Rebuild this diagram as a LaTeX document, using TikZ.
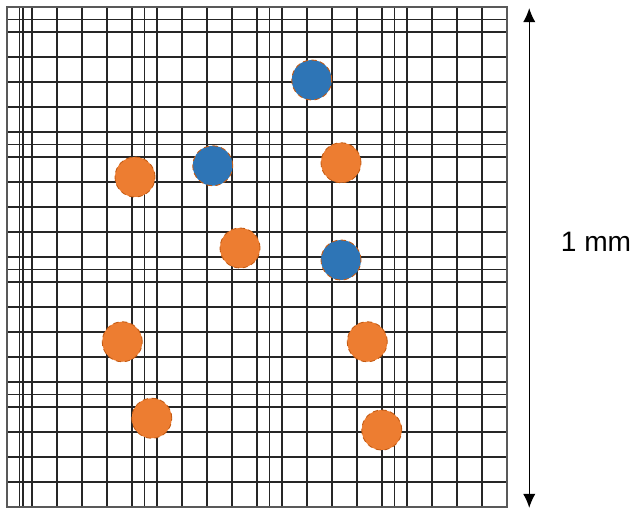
\documentclass[tikz,border=0pt]{standalone}
\usepackage{fontspec}
\setmainfont{Liberation Sans}
\usepackage{xcolor}
\usepackage{tikz}
\usetikzlibrary{arrows.meta}

\definecolor{cellorange}{HTML}{ED7D31}
\definecolor{cellblue}{HTML}{2E75B6}
\definecolor{rimorange}{HTML}{C55A11}

\begin{document}
\begin{tikzpicture}[x=0.5cm, y=0.5cm,
    gridline/.style={black!85, line width=0.9pt},
    frameline/.style={black!65, line width=1.2pt},
    cell/.style={circle, minimum size=0.8cm, inner sep=0pt, draw=rimorange, densely dashed, line width=0.5pt},
    live/.style={cell, fill=cellorange},
    dead/.style={cell, fill=cellblue},
    scalebar/.style={black, line width=0.85pt, arrows={Latex[length=8pt, width=7pt]-Latex[length=8pt, width=7pt]}}]
            \useasboundingbox (-0.28,0.28) rectangle (25.36,-20.08);
            % counting grid
            \foreach \i in {0,...,20} {
                \draw[gridline] (\i,0) -- (\i,-20);
                \draw[gridline] (0,-\i) -- (20,-\i);
            }
            \foreach \i in {0.5,5.5,10.5,15.5} {
                \draw[gridline] (\i,0) -- (\i,-20);
                \draw[gridline] (0,-\i) -- (20,-\i);
            }
            \draw[gridline] (0.64,0) -- (0.64,-20);
            \draw[frameline] (0,0) rectangle (20,-20);
            % cells
            \node[dead] (b1) at (12.19,-2.92) {};
            \node[live] (o1) at (5.12,-6.80) {};
            \node[dead] (b2) at (8.23,-6.35) {};
            \node[live] (o2) at (13.36,-6.23) {};
            \node[live] (o3) at (9.32,-9.64) {};
            \node[dead] (b3) at (13.36,-10.12) {};
            \node[live] (o4) at (4.61,-13.39) {};
            \node[live] (o5) at (14.41,-13.39) {};
            \node[live] (o6) at (5.79,-16.45) {};
            \node[live] (o7) at (14.99,-16.92) {};
            % scale bar
            \coordinate (bartop) at (20.89,-0.04);
            \coordinate (barbot) at (20.89,-20.04);
            \draw[scalebar] (bartop) -- (barbot);
            \node[font=\fontsize{16}{19}\selectfont] (barlabel) at (23.56,-9.40) {1 mm};
\end{tikzpicture}
\end{document}
